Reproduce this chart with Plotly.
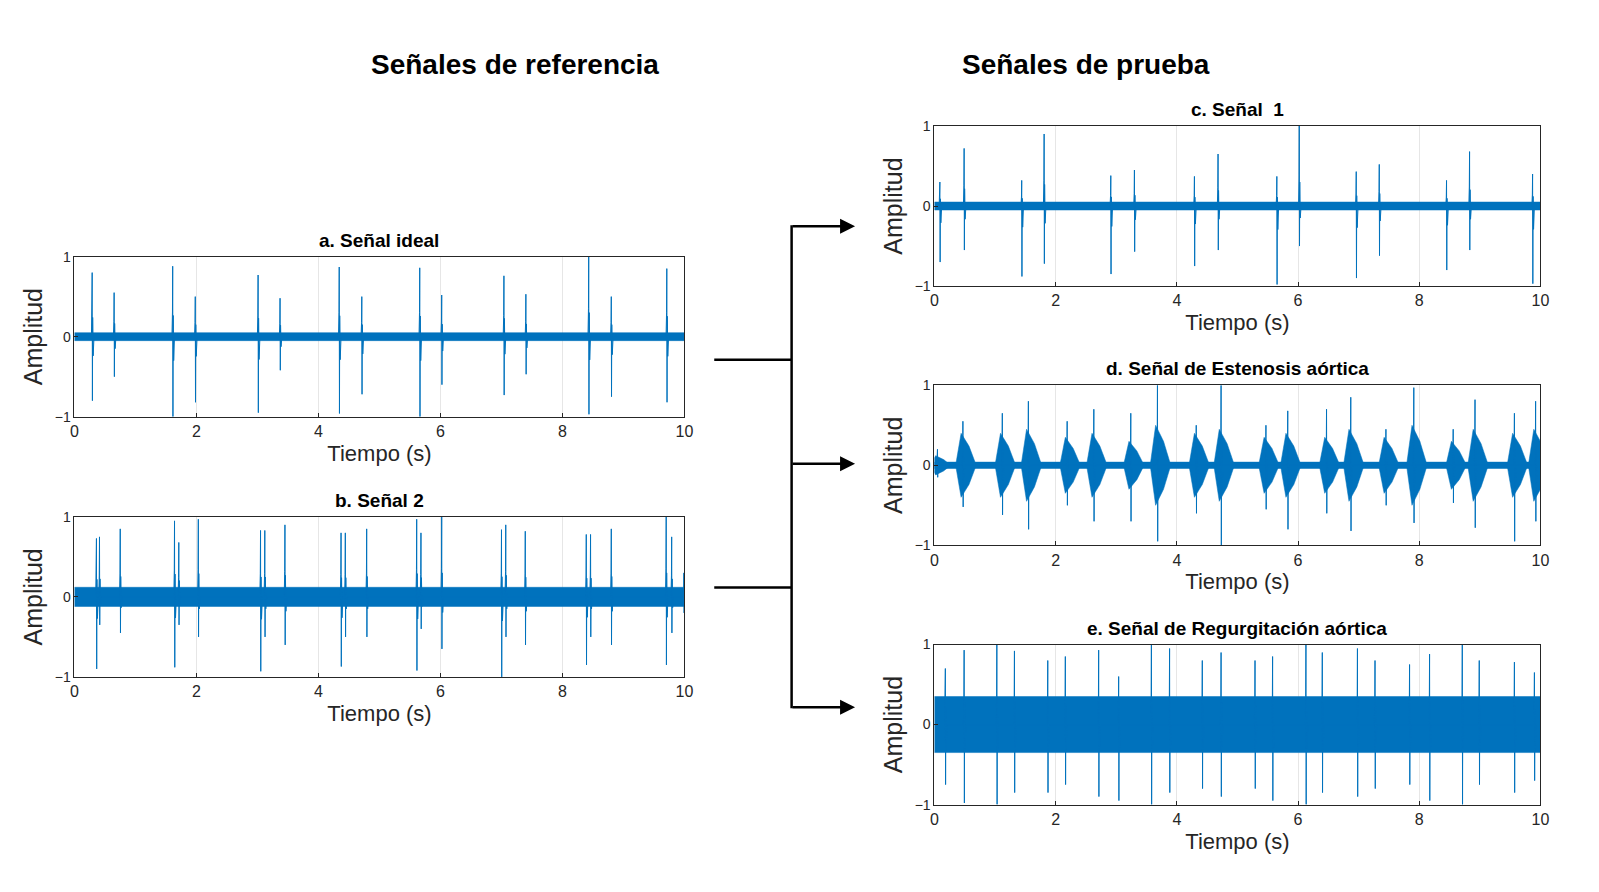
import plotly.graph_objects as go

W, H = 1599, 892
BLUE = "#0072BD"

# ---- data ----
# a. Señal ideal: spike times, positive peaks, negative peaks
a_t = [0.29, 0.65, 1.61, 1.98, 3.01, 3.37, 4.34, 4.71, 5.66, 6.02, 7.04, 7.40, 8.43, 8.80, 9.71]
a_up = [0.80, 0.55, 0.88, 0.50, 0.77, 0.48, 0.87, 0.50, 0.86, 0.52, 0.76, 0.53, 1.00, 0.50, 0.85]
a_dn = [-0.80, -0.50, -1.00, -0.82, -0.95, -0.42, -0.96, -0.72, -1.00, -0.60, -0.73, -0.47, -0.97, -0.75, -0.82]
a_noise = 0.05

b_t = [0.36, 0.41, 0.75, 1.64, 1.71, 2.03, 3.05, 3.12, 3.45, 4.37, 4.44, 4.79, 5.61, 5.68, 6.02,
       7.00, 7.07, 7.39, 8.39, 8.46, 8.80, 9.70, 9.79, 9.99]
b_up = [0.73, 0.75, 0.85, 0.95, 0.68, 0.97, 0.83, 0.83, 0.90, 0.80, 0.80, 0.85, 0.97, 0.80, 1.00,
        0.84, 0.90, 0.82, 0.78, 0.78, 0.85, 1.00, 0.75, 0.30]
b_dn = [-0.90, -0.35, -0.45, -0.88, -0.35, -0.50, -0.93, -0.50, -0.60, -0.87, -0.50, -0.50, -0.92, -0.40, -0.65,
        -1.00, -0.50, -0.60, -0.85, -0.50, -0.60, -0.85, -0.45, -0.20]
b_noise = 0.12

c_t = [0.09, 0.49, 1.44, 1.81, 2.91, 3.30, 4.29, 4.68, 5.65, 6.02, 6.96, 7.34, 8.45, 8.83, 9.87]
c_up = [0.30, 0.72, 0.32, 0.90, 0.38, 0.45, 0.37, 0.65, 0.37, 1.00, 0.43, 0.52, 0.32, 0.68, 0.40]
c_dn = [-0.70, -0.55, -0.88, -0.72, -0.85, -0.57, -0.75, -0.55, -0.98, -0.50, -0.90, -0.62, -0.80, -0.55, -0.97]
c_noise = 0.05

# d. Estenosis: bursts (centre, envelope half-height, peak up, peak down)
d_t = [0.05, 0.47, 1.12, 1.55, 2.19, 2.63, 3.24, 3.68, 4.32, 4.73, 5.47, 5.83, 6.47, 6.87, 7.45, 7.91, 8.56, 8.92, 9.57, 9.92]
d_env = [0.12, 0.40, 0.40, 0.45, 0.35, 0.40, 0.30, 0.50, 0.40, 0.45, 0.35, 0.40, 0.35, 0.45, 0.35, 0.50, 0.30, 0.45, 0.40, 0.45]
d_up = [0.20, 0.55, 0.65, 0.80, 0.55, 0.70, 0.65, 1.00, 0.50, 1.00, 0.50, 0.68, 0.70, 0.85, 0.45, 0.97, 0.45, 0.82, 0.65, 0.80]
d_dn = [-0.15, -0.52, -0.62, -0.80, -0.50, -0.70, -0.70, -0.95, -0.60, -1.00, -0.55, -0.80, -0.60, -0.82, -0.50, -0.72, -0.47, -0.78, -0.95, -0.70]
d_noise = 0.04

# e. Regurgitación: spikes + dense band
e_t = [0.18, 0.49, 1.03, 1.32, 1.87, 2.16, 2.71, 3.04, 3.58, 3.88, 4.42, 4.73, 5.29, 5.58, 6.13, 6.40,
       6.98, 7.27, 7.84, 8.17, 8.71, 8.99, 9.57, 9.90]
e_up = [0.70, 0.93, 1.00, 0.92, 0.80, 0.85, 0.93, 0.60, 1.00, 0.95, 0.80, 0.90, 0.80, 0.85, 1.00, 0.90,
        0.95, 0.80, 0.75, 0.88, 1.00, 0.80, 0.78, 0.65]
e_dn = [-0.75, -0.98, -1.00, -0.85, -0.85, -0.75, -0.90, -0.95, -1.00, -0.85, -0.80, -0.90, -0.80, -0.95,
        -1.00, -0.85, -0.90, -0.80, -0.75, -0.95, -1.00, -0.75, -0.85, -0.70]
e_noise = 0.35

tick_vals = [0, 2, 4, 6, 8, 10]
y_ticks = [-1, 0, 1]

panels = [
    ("a. Señal ideal", a_t, a_up, a_dn, a_noise, None, (63, 678, 245, 408)),
    ("b. Señal 2", b_t, b_up, b_dn, b_noise, None, (63, 678, 510, 673)),
    ("c. Señal  1", c_t, c_up, c_dn, c_noise, None, (930, 1541, 112, 275)),
    ("d. Señal de Estenosis aórtica", d_t, d_up, d_dn, d_noise, d_env, (930, 1541, 376, 539)),
    ("e. Señal de Regurgitación aórtica", e_t, e_up, e_dn, e_noise, None, (930, 1541, 640, 803)),
]

fig = go.Figure()
layout = dict(width=W, height=H, margin=dict(l=0, r=0, t=0, b=0),
              plot_bgcolor="white", paper_bgcolor="white", showlegend=False,
              font=dict(family="Liberation Sans, Arial", color="#262626"))
annotations = []

for i, (title, ts, ups, dns, noise, env, (x0, x1, y0, y1)) in enumerate(panels):
    n = "" if i == 0 else str(i + 1)
    xa, ya = "x" + n, "y" + n
    fig.add_trace(go.Scatter(x=[0, 10, 10, 0, 0], y=[noise, noise, -noise, -noise, noise],
                             fill="toself", fillcolor=BLUE, mode="lines",
                             line=dict(color=BLUE, width=0.5), xaxis=xa, yaxis=ya, hoverinfo="skip"))
    if env is not None:
        for t, e in zip(ts, env):
            fig.add_trace(go.Scatter(
                x=[t - 0.12, t - 0.03, t + 0.10, t + 0.22, t + 0.10, t - 0.03, t - 0.12],
                y=[0, e, 0.6 * e, 0, -0.6 * e, -e, 0],
                fill="toself", fillcolor=BLUE, mode="lines",
                line=dict(color=BLUE, width=0.5), xaxis=xa, yaxis=ya, hoverinfo="skip"))
    xs, ys = [], []
    for t, u, d in zip(ts, ups, dns):
        xs += [t - 0.012, t - 0.004, t, t + 0.004, t + 0.008, t + 0.016, t + 0.03]
        ys += [0, 0.35 * u, u, d, 0.3 * u, 0.3 * d, 0]
    fig.add_trace(go.Scatter(x=xs, y=ys, mode="lines", line=dict(color=BLUE, width=1),
                             xaxis=xa, yaxis=ya, hoverinfo="skip"))

    common = dict(showline=True, mirror=True, linecolor="#262626", linewidth=1,
                  ticks="inside", ticklen=4, tickcolor="#262626", zeroline=False,
                  tickfont=dict(size=16, color="#262626"))
    layout["xaxis" + n] = dict(common, domain=[x0 / W, x1 / W], range=[0, 10], tickvals=tick_vals,
                               anchor=ya, showgrid=True, gridcolor="#e6e6e6",
                               title=dict(text="Tiempo (s)", font=dict(size=22), standoff=6))
    layout["yaxis" + n] = dict(common, domain=[1 - y1 / H, 1 - y0 / H], range=[-1, 1], tickvals=y_ticks,
                               anchor=xa, showgrid=False, tickfont=dict(size=14, color="#262626"),
                               title=dict(text="Amplitud", font=dict(size=25), standoff=4))
    annotations.append(dict(text="<b>" + title + "</b>", x=(x0 + x1) / 2 / W, y=1 - (y0 - 4) / H,
                            xref="paper", yref="paper", xanchor="center", yanchor="bottom",
                            showarrow=False, font=dict(size=19, color="#000")))

annotations.append(dict(text="<b>Señales de referencia</b>", x=360 / W, y=1 - 32 / H, xref="paper", yref="paper",
                        showarrow=False, font=dict(size=28, color="#000")))
annotations.append(dict(text="<b>Señales de prueba</b>", x=1210 / W, y=1 - 32 / H, xref="paper", yref="paper",
                        showarrow=False, font=dict(size=28, color="#000")))

shapes = []
def pl(xa_, ya_, xb, yb):
    shapes.append(dict(type="line", xref="paper", yref="paper", x0=xa_ / W, y0=1 - ya_ / H,
                       x1=xb / W, y1=1 - yb / H, line=dict(color="black", width=2.5)))
pl(708, 350, 786, 350)
pl(708, 582, 786, 582)
pl(786, 213, 786, 705)
for yy in [214, 456, 704]:
    annotations.append(dict(x=850 / W, y=1 - yy / H, ax=-64, ay=0, xref="paper", yref="paper",
                            axref="pixel", ayref="pixel", showarrow=True, arrowhead=2, arrowsize=1.2,
                            arrowwidth=2.5, arrowcolor="black", text=""))

layout["annotations"] = annotations
layout["shapes"] = shapes
fig.update_layout(**layout)
fig.write_html("out.html")
